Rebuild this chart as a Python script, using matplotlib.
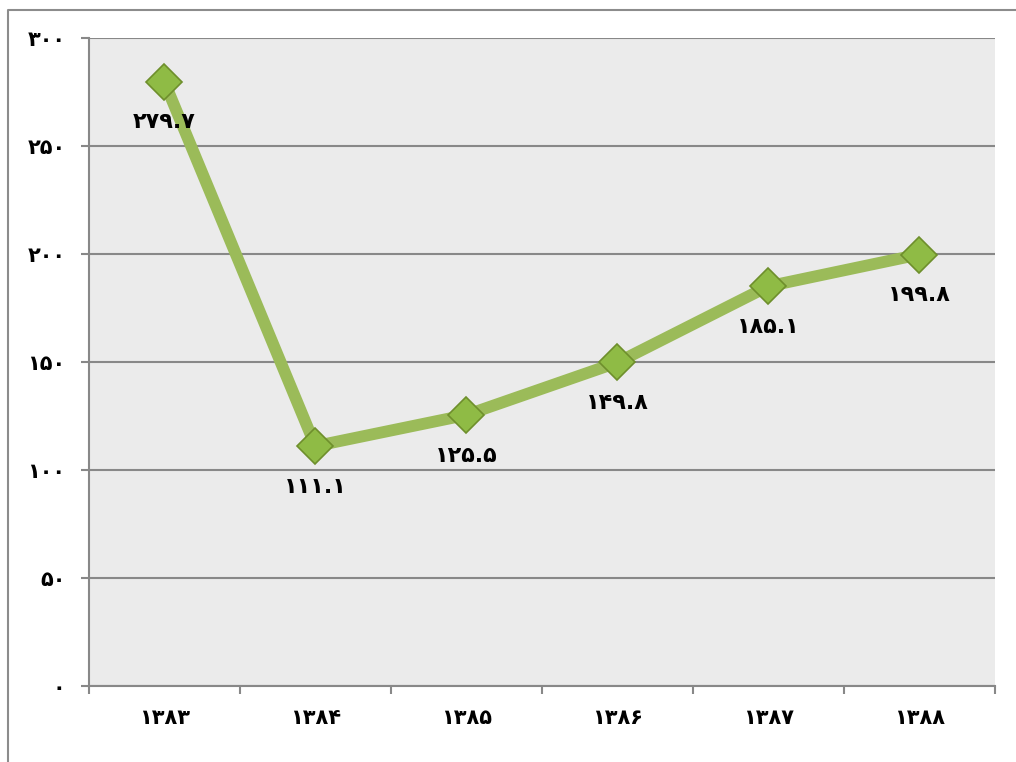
import matplotlib.pyplot as plt
from matplotlib.lines import Line2D

# data
years = [1383, 1384, 1385, 1386, 1387, 1388]
values = [279.7, 111.1, 125.5, 149.8, 185.1, 199.8]
yticks = [0, 50, 100, 150, 200, 250, 300]

PERSIAN = str.maketrans('0123456789', '۰۱۲۳۴۵۶۷۸۹')


def fa(s):
    return str(s).translate(PERSIAN)


plt.rcParams['font.family'] = ['DejaVu Sans']

fig = plt.figure(figsize=(10.16, 7.62), dpi=100)
ax = fig.add_axes([0.0876, 0.0997, 0.8914, 0.8503])

# outer chart border (left and top only visible)
fig.lines.append(Line2D([0.008, 0.008, 1.0], [0.0, 0.987, 0.987], transform=fig.transFigure,
                        color='#8c8c8c', linewidth=1.5))

ax.set_facecolor('#ebebeb')
x = list(range(len(years)))
ax.plot(x, values, color='#9bbb59', linewidth=8.5, solid_capstyle='round', zorder=3)
ax.plot(x, values, linestyle='none', marker='D', markersize=18,
        markerfacecolor='#8fbb45', markeredgecolor='#6e8f2c', markeredgewidth=1.2, zorder=4)

for xi, v in zip(x, values):
    ax.annotate(fa(f'{v:.1f}'), (xi, v), xytext=(0, -22), textcoords='offset points',
                ha='center', va='top', fontsize=16, fontweight='bold', color='black', zorder=5)

ax.set_xlim(-0.5, len(years) - 0.5)
ax.set_ylim(0, 300)
ax.set_yticks(yticks)
ax.set_yticklabels([fa(t) for t in yticks], fontsize=15, fontweight='bold')
ax.set_xticks(x)
ax.set_xticklabels([fa(y) for y in years], fontsize=15, fontweight='bold')
ax.set_xticks([i - 0.5 for i in range(len(years) + 1)], minor=True)
ax.tick_params(axis='x', which='major', length=0, pad=16)
ax.tick_params(axis='x', which='minor', length=6, color='#888888', width=1.5)
ax.tick_params(axis='y', length=6, color='#888888', width=1.5, pad=11)

ax.grid(axis='y', color='#888888', linewidth=1.5)
ax.set_axisbelow(True)
for side in ['top', 'right']:
    ax.spines[side].set_visible(False)
for side in ['left', 'bottom']:
    ax.spines[side].set_color('#888888')
    ax.spines[side].set_linewidth(1.5)

fig.savefig('out.png', dpi=100)
